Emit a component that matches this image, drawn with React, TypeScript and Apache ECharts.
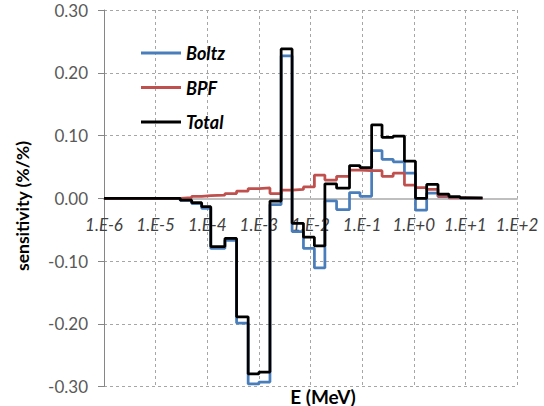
import React, { useEffect, useRef } from "react";
import * as echarts from "echarts";

// Energy group boundaries (MeV)
const energyBounds = [
  1e-6, 3.0e-5, 5.0e-5, 7.8e-5, 1.17e-4, 2.2e-4, 3.7e-4, 6.2e-4, 1.0e-3,
  1.64e-3, 2.7e-3, 4.4e-3, 7.3e-3, 1.19e-2, 1.9e-2, 3.2e-2, 5.7e-2, 9.1e-2,
  0.153, 0.243, 0.4, 0.66, 1.08, 1.78, 2.95, 4.8, 7.9, 21.5,
];

// Sensitivity per group (%/%)
const boltz = [
  0, -0.0035, -0.0085, -0.016, -0.08, -0.067, -0.199, -0.296, -0.293, -0.01,
  0.227, -0.053, -0.08, -0.111, -0.004, -0.018, 0.009, 0.003, 0.076, 0.062,
  0.058, 0.04, -0.019, 0.008, 0.0025, 0.0005, 0,
];
const bpf = [
  0, 0.001, 0.003, 0.004, 0.005, 0.0075, 0.0115, 0.0155, 0.0165, 0.0075,
  0.013, 0.014, 0.018, 0.037, 0.029, 0.035, 0.045, 0.044, 0.044, 0.035,
  0.04, 0.021, 0.017, 0.014, 0.0035, 0.001, 0,
];
const total = [
  0, -0.003, -0.007, -0.0135, -0.077, -0.064, -0.189, -0.28, -0.277, -0.0045,
  0.238, -0.04, -0.062, -0.076, 0.023, 0.016, 0.052, 0.049, 0.117, 0.097,
  0.099, 0.059, 0, 0.022, 0.0067, 0.0025, 0.0005,
];

const seriesNames = ["Boltz", "BPF", "Total"];
const seriesColors = ["#4A7EBB", "#C0504D", "#000000"];
const yMin = -0.3;
const yMax = 0.3;
const yStep = 0.1;
const xMin = 1e-6;
const xMax = 1e2;

const FONT = "Lato, 'Liberation Sans', sans-serif";

const W = 544;
const H = 406;
const GRID = { left: 104, right: 27, top: 10, bottom: 19.5 };

function stepPoints(values: number[]): [number, number][] {
  const pts: [number, number][] = [];
  values.forEach((v, i) => {
    pts.push([energyBounds[i], v]);
    pts.push([energyBounds[i + 1], v]);
  });
  return pts;
}

export default function App() {
  const ref = useRef<HTMLDivElement>(null);
  useEffect(() => {
    if (!ref.current) return;
    const chart = echarts.init(ref.current, undefined, { renderer: "svg" });
    const dataSets = [boltz, bpf, total];
    const gridColor = "#A6A6A6";
    const plotH = H - GRID.top - GRID.bottom;
    // distance from the bottom of the plot up to the zero line
    const zeroOffset = (plotH * (0 - yMin)) / (yMax - yMin);
    chart.setOption({
      animation: false,
      backgroundColor: "#ffffff",
      grid: {
        left: GRID.left,
        right: GRID.right,
        top: GRID.top,
        bottom: GRID.bottom,
        containLabel: false,
        outerBoundsMode: "none",
      },
      legend: {
        orient: "vertical",
        left: 136,
        top: 39,
        itemWidth: 40,
        itemHeight: 3,
        itemGap: 16.5,
        icon: "rect",
        selectedMode: false,
        data: seriesNames,
        textStyle: {
          fontFamily: FONT,
          fontSize: 18,
          fontWeight: "bold",
          fontStyle: "italic",
          color: "#000",
        },
      },
      xAxis: {
        type: "log",
        logBase: 10,
        min: xMin,
        max: xMax,
        position: "bottom",
        offset: -zeroOffset,
        axisLine: { onZero: false, lineStyle: { color: "#BFBFBF", width: 2 } },
        axisTick: { show: false },
        axisLabel: {
          margin: 18,
          verticalAlign: "top",
          fontFamily: FONT,
          fontSize: 17,
          lineHeight: 17,
          fontStyle: "italic",
          color: "#404040",
          formatter: (v: number) => {
            const e = Math.round(Math.log10(v));
            return "1.E" + (e >= 0 ? "+" + e : String(e));
          },
        },
        splitLine: { show: true, lineStyle: { color: gridColor, type: [3, 3], width: 1 } },
      },
      yAxis: {
        type: "value",
        min: yMin,
        max: yMax,
        interval: yStep,
        axisLine: { show: true, onZero: false, lineStyle: { color: "#868686", width: 1 } },
        axisTick: { show: true, length: 6, lineStyle: { color: "#868686" } },
        axisLabel: {
          margin: 16,
          fontFamily: FONT,
          fontSize: 17,
          color: "#595959",
          formatter: (v: number) => v.toFixed(2),
        },
        splitLine: { show: true, lineStyle: { color: gridColor, type: [3, 3], width: 1 } },
      },
      graphic: [
        {
          type: "text",
          x: 22,
          y: 206,
          rotation: Math.PI / 2,
          style: {
            text: "sensitivity (%/%)",
            fontFamily: FONT,
            fontSize: 17.5,
            fontWeight: "bold",
            fill: "#000",
            align: "center",
            verticalAlign: "middle",
          },
        },
        {
          type: "text",
          x: 323,
          y: 396,
          style: {
            text: "E (MeV)",
            fontFamily: FONT,
            fontSize: 19,
            fontWeight: "bold",
            fill: "#000",
            align: "center",
            verticalAlign: "middle",
          },
        },
      ],
      series: seriesNames.map((name, i) => ({
        name,
        type: "line",
        data: stepPoints(dataSets[i]),
        symbol: "none",
        color: seriesColors[i],
        lineStyle: { color: seriesColors[i], width: 2.75 },
        z: 2 + i,
      })),
    });
    return () => chart.dispose();
  }, []);
  return (
    <div
      ref={ref}
      style={{ position: "fixed", left: 0, top: 0, width: W, height: H }}
    />
  );
}
